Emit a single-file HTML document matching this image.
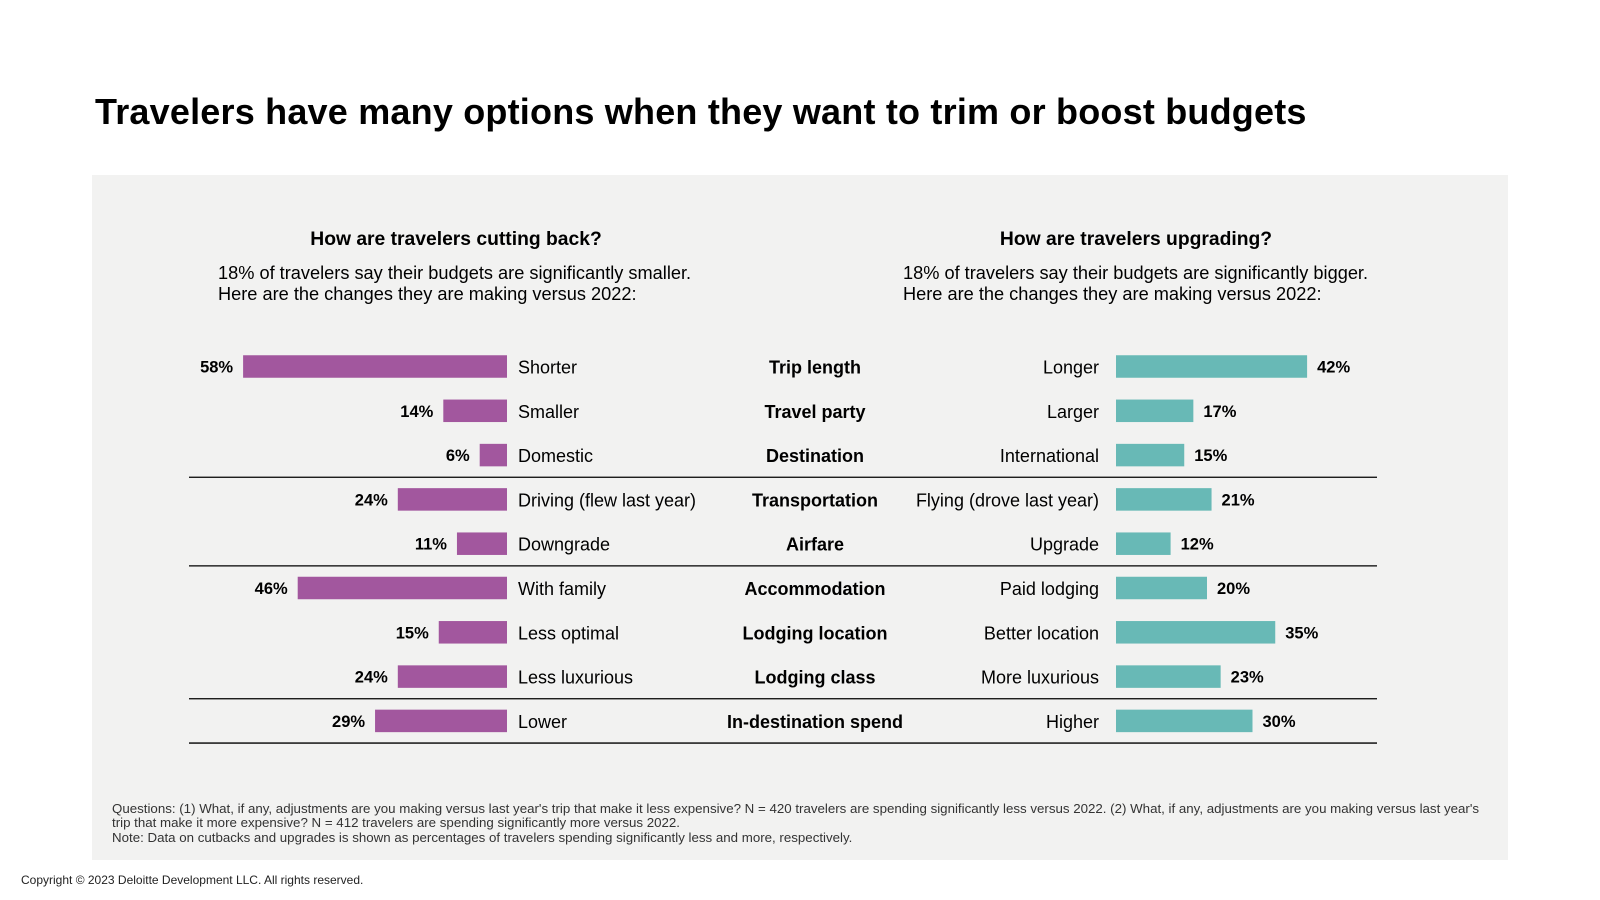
<!DOCTYPE html>
<html><head><meta charset="utf-8">
<style>
html,body{margin:0;padding:0;background:#fff;}
body{width:1600px;height:900px;position:relative;overflow:hidden;font-family:"Liberation Sans","DejaVu Sans",sans-serif;color:#000;}
.t{position:absolute;white-space:nowrap;}
#title{left:95px;top:91px;font-size:36px;font-weight:bold;letter-spacing:0.2px;}
#panel{position:absolute;left:92px;top:175px;width:1416px;height:685px;background:#f2f2f1;}
.h{font-size:19.3px;font-weight:bold;transform:translateX(-50%);}
.sub{font-size:18.2px;line-height:20.5px;}
.foot{font-size:13.3px;line-height:14.3px;color:#333;}
</style></head>
<body>
<div class="t" id="title">Travelers have many options when they want to trim or boost budgets</div>
<div id="panel"></div>
<div class="t h" style="left:456px;top:229px;">How are travelers cutting back?</div>
<div class="t h" style="left:1136px;top:229px;">How are travelers upgrading?</div>
<div class="t sub" style="left:218px;top:263px;">18% of travelers say their budgets are significantly smaller.<br>Here are the changes they are making versus 2022:</div>
<div class="t sub" style="left:903px;top:263px;">18% of travelers say their budgets are significantly bigger.<br>Here are the changes they are making versus 2022:</div>
<svg id="chart" width="1600" height="900" style="position:absolute;left:0;top:0;"></svg>
<div class="t foot" style="left:112px;top:802px;">Questions: (1) What, if any, adjustments are you making versus last year's trip that make it less expensive? N = 420 travelers are spending significantly less versus 2022. (2) What, if any, adjustments are you making versus last year's<br>trip that make it more expensive? N = 412 travelers are spending significantly more versus 2022.<br>Note: Data on cutbacks and upgrades is shown as percentages of travelers spending significantly less and more, respectively.</div>
<div class="t" style="left:21px;top:873px;font-size:12px;color:#222;">Copyright © 2023 Deloitte Development LLC. All rights reserved.</div>
<script>
const categories=["Trip length","Travel party","Destination","Transportation","Airfare","Accommodation","Lodging location","Lodging class","In-destination spend"];
const cutLabels=["Shorter","Smaller","Domestic","Driving (flew last year)","Downgrade","With family","Less optimal","Less luxurious","Lower"];
const cutValues=[58,14,6,24,11,46,15,24,29];
const upLabels=["Longer","Larger","International","Flying (drove last year)","Upgrade","Paid lodging","Better location","More luxurious","Higher"];
const upValues=[42,17,15,21,12,20,35,23,30];
const separatorsAfter=[2,4,7,8];

const svg=document.getElementById('chart');
const NS='http://www.w3.org/2000/svg';
const pxPerPct=4.55, leftBase=507, rightBase=1116, row0=366.5, rowStep=44.3, barH=22.5;
const yPos=i=>row0+i*rowStep;
const xLen=v=>v*pxPerPct;
function mk(tag,attrs){const e=document.createElementNS(NS,tag);for(const k in attrs)e.setAttribute(k,attrs[k]);svg.appendChild(e);return e;}
function txt(x,y,s,anchor,bold){const e=mk('text',{x:x,y:y,'text-anchor':anchor,'dominant-baseline':'central','font-size':bold==='val'?'16.5':(bold?'18':'18'),'font-weight':bold?'bold':'normal','font-family':'Liberation Sans, DejaVu Sans, sans-serif',fill:'#000'});e.textContent=s;return e;}
categories.forEach((c,i)=>{
  const y=yPos(i);
  const w1=xLen(cutValues[i]);
  const b1=mk('rect',{x:leftBase-w1,y:y-barH/2,width:w1,height:barH,fill:'#a2579e'});
  
  
  const v1=txt(leftBase-w1-10,y+1,cutValues[i]+'%','end','val');
  
  
  const l1=txt(518,y+1,cutLabels[i],'start',false);
  
  
  const cl=txt(815,y+1,c,'middle',true);
  
  
  const w2=xLen(upValues[i]);
  const b2=mk('rect',{x:rightBase,y:y-barH/2,width:w2,height:barH,fill:'#68b9b6'});
  
  
  const v2=txt(rightBase+w2+10,y+1,upValues[i]+'%','start','val');
  
  
  const l2=txt(1099,y+1,upLabels[i],'end',false);
  
  
});
separatorsAfter.forEach(i=>{
  const y=yPos(i)+rowStep/2;
  const ln=mk('line',{x1:189,x2:1377,y1:y,y2:y,stroke:'#000','stroke-width':1.3});
  
  
});
</script>
</body></html>
